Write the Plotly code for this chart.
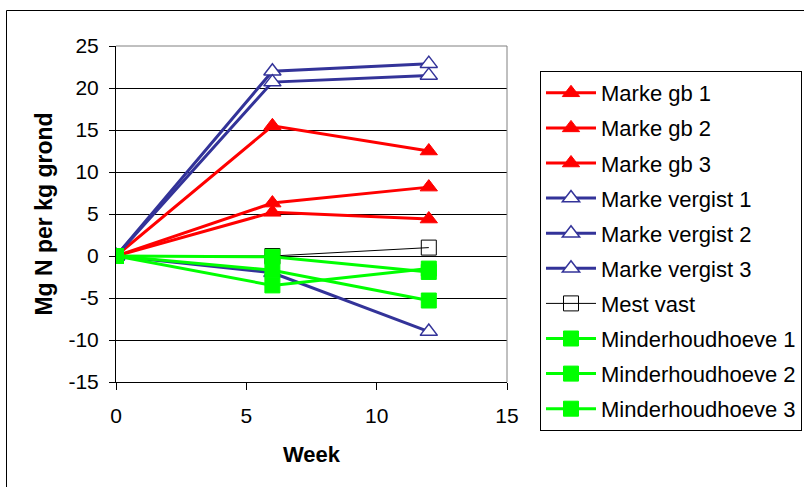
import plotly.graph_objects as go

# Weeks sampled
weeks = [0, 6, 12]

# Mineral N change (mg N per kg soil) per treatment
marke_gb_1 = [0, 15.5, 12.5]
marke_gb_2 = [0, 6.3, 8.2]
marke_gb_3 = [0, 5.2, 4.4]
marke_vergist_1 = [0, 22.0, 22.9]
marke_vergist_2 = [0, 20.7, 21.5]
marke_vergist_3 = [0, -2.0, -9.0]
mest_vast = [0, 0.0, 1.0]
minderhoudhoeve_1 = [0, -0.1, -1.9]
minderhoudhoeve_2 = [0, -1.7, -5.3]
minderhoudhoeve_3 = [0, -3.5, -1.5]

x_ticks = [0, 5, 10, 15]
y_ticks = [-15, -10, -5, 0, 5, 10, 15, 20, 25]
y_tick_labels = [str(v) for v in y_ticks]  # plain hyphen minus

RED = "#FF0000"
BLUE = "#333399"
GREEN = "#00FF00"

series = [
    ("Marke gb 1", marke_gb_1, RED, "triangle-up", RED, RED, 3),
    ("Marke gb 2", marke_gb_2, RED, "triangle-up", RED, RED, 3),
    ("Marke gb 3", marke_gb_3, RED, "triangle-up", RED, RED, 3),
    ("Marke vergist 1", marke_vergist_1, BLUE, "triangle-up", "white", BLUE, 3),
    ("Marke vergist 2", marke_vergist_2, BLUE, "triangle-up", "white", BLUE, 3),
    ("Marke vergist 3", marke_vergist_3, BLUE, "triangle-up", "white", BLUE, 3),
    ("Mest vast", mest_vast, "black", "square-open", "black", "black", 1),
    ("Minderhoudhoeve 1", minderhoudhoeve_1, GREEN, "square", GREEN, GREEN, 3),
    ("Minderhoudhoeve 2", minderhoudhoeve_2, GREEN, "square", GREEN, GREEN, 3),
    ("Minderhoudhoeve 3", minderhoudhoeve_3, GREEN, "square", GREEN, GREEN, 3),
]

fig = go.Figure()
for i, (name, vals, col, sym, fill, edge, lw) in enumerate(series):
    fig.add_trace(go.Scatter(
        x=weeks, y=vals, name=name, mode="lines+markers",
        legendgroup=f"g{i}",
        line=dict(color=col, width=lw),
        marker=dict(symbol=sym, size=15, color=fill,
                    line=dict(color=edge, width=1.5 if fill == "white" else 1)),
    ))

W, H = 804, 487
L, R, T, B = 116, 507, 46, 382  # plot area in pixels


def px(xp):
    return (xp - L) / (R - L)


def py(yp):
    return (B - yp) / (B - T)


FONT = "Liberation Sans, Arial, sans-serif"

fig.update_layout(
    width=W, height=H,
    margin=dict(l=L, r=W - R, t=T, b=H - B, autoexpand=False),
    paper_bgcolor="white", plot_bgcolor="white",
    font=dict(family=FONT, size=21, color="black"),
    showlegend=True,
    legend=dict(
        x=px(540), y=py(71), xanchor="left", yanchor="top",
        bordercolor="black", borderwidth=1, bgcolor="white",
        font=dict(size=22), tracegroupgap=3.5, itemwidth=50,
        itemclick=False, maxheight=420,
    ),
    xaxis=dict(
        range=[0, 15], tickvals=x_ticks, ticks="outside", ticklen=7,
        tickcolor="black", showline=True, linecolor="black", linewidth=1,
        showgrid=False, zeroline=False, ticklabelstandoff=8,
        title=dict(text="<b>Week</b>", font=dict(size=22), standoff=20),
    ),
    yaxis=dict(
        range=[-15, 25], tickvals=y_ticks, ticktext=y_tick_labels,
        ticks="outside", ticklen=6,
        tickcolor="black", showline=True, linecolor="black", linewidth=1,
        showgrid=True, gridcolor="black", gridwidth=1, zeroline=False,
        ticklabelstandoff=6,
        title=dict(text="<b>Mg N per kg grond</b>", font=dict(size=23), standoff=9),
    ),
    shapes=[
        # plot area right edge
        dict(type="line", xref="paper", yref="paper", x0=1, x1=1, y0=0, y1=1,
             line=dict(color="#808080", width=1)),
        # top edge
        dict(type="line", xref="paper", yref="paper", x0=0, x1=1, y0=1, y1=1,
             line=dict(color="#808080", width=1)),
        # chart frame (top and left)
        dict(type="line", xref="paper", yref="paper", x0=px(6.5), x1=px(W + 5),
             y0=py(10.5), y1=py(10.5), line=dict(color="black", width=1)),
        dict(type="line", xref="paper", yref="paper", x0=px(6.5), x1=px(6.5),
             y0=py(10.5), y1=py(H + 5), line=dict(color="black", width=1)),
    ],
)

fig.write_html("out.html")
